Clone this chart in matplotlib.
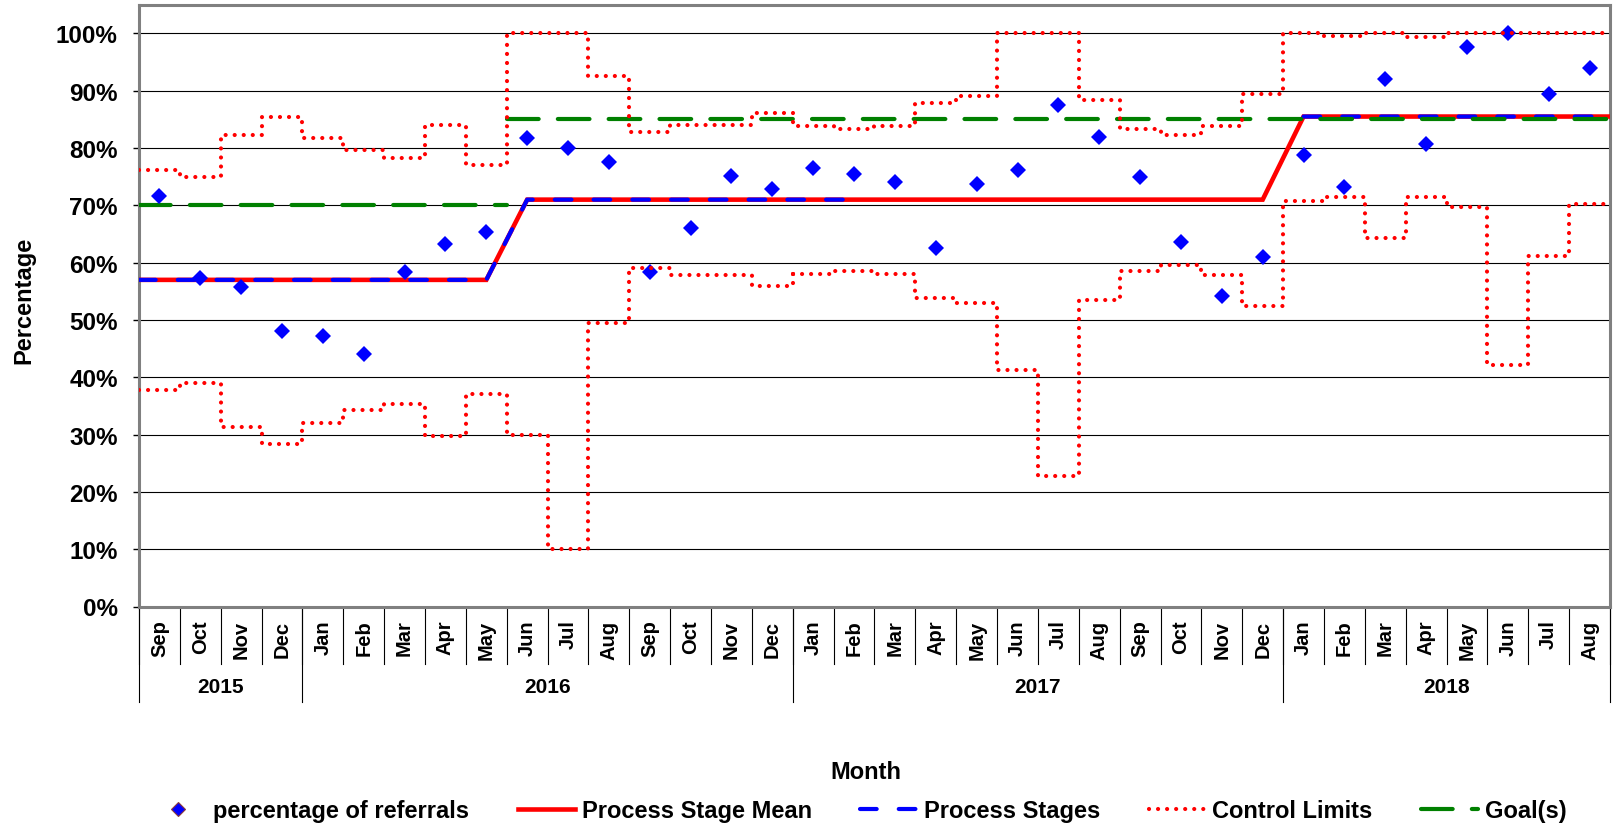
import numpy as np
import matplotlib
matplotlib.use("Agg")
import matplotlib.pyplot as plt
from matplotlib.lines import Line2D

plt.rcParams['font.family'] = ['Liberation Sans', 'DejaVu Sans']
plt.rcParams['font.weight'] = 'bold'

# ---------------- data ----------------
months = ["Sep", "Oct", "Nov", "Dec",
          "Jan", "Feb", "Mar", "Apr", "May", "Jun", "Jul", "Aug", "Sep", "Oct", "Nov", "Dec",
          "Jan", "Feb", "Mar", "Apr", "May", "Jun", "Jul", "Aug", "Sep", "Oct", "Nov", "Dec",
          "Jan", "Feb", "Mar", "Apr", "May", "Jun", "Jul", "Aug"]
years = ["2015", "2016", "2017", "2018"]
year_counts = [4, 12, 12, 8]

pct_referrals = [71.7, 57.4, 55.7, 48.1,
                 47.2, 44.1, 58.4, 63.2, 65.4, 81.8, 80.0, 77.5, 58.3, 66.0, 75.2, 72.8,
                 76.6, 75.4, 74.1, 62.5, 73.7, 76.2, 87.5, 82.0, 75.0, 63.6, 54.1, 61.0,
                 78.8, 73.2, 92.0, 80.7, 97.7, 100.0, 89.4, 93.9]

stage_mean = [57.0] * 9 + [71.0] * 19 + [85.5] * 8
# process stages (baseline periods); None = not part of a baseline
process_stages = [57.0] * 9 + [71.0] * 9 + [None] * 10 + [85.5] * 8

ucl = [76.1, 74.9, 82.3, 85.5,
       81.7, 79.7, 78.3, 84.0, 77.0, 100.0, 100.0, 92.5, 82.8, 84.0, 84.0, 86.1,
       83.9, 83.3, 83.8, 87.9, 89.1, 100.0, 100.0, 88.4, 83.4, 82.3, 83.9, 89.4,
       100.0, 99.6, 100.0, 99.4, 100.0, 100.0, 100.0, 100.0]
lcl = [37.7, 39.0, 31.4, 28.3,
       32.1, 34.3, 35.4, 29.8, 37.0, 29.9, 10.0, 49.4, 59.1, 57.9, 57.9, 55.9,
       58.0, 58.6, 58.1, 53.9, 52.9, 41.2, 22.8, 53.4, 58.5, 59.6, 57.9, 52.4,
       70.7, 71.4, 64.3, 71.4, 69.7, 42.2, 61.1, 70.3]
goal = [70.0] * 9 + [85.0] * 27

# ---------------- figure ----------------
W, H = 1613, 829
fig = plt.figure(figsize=(W / 100, H / 100), dpi=100)

ax_left_px, ax_right_px = 139, 1610
ax_top_px, ax_bot_px = 5.8, 607.5
ax = fig.add_axes([ax_left_px / W, 1 - ax_bot_px / H,
                   (ax_right_px - ax_left_px) / W, (ax_bot_px - ax_top_px) / H])
ax_h_px = ax_bot_px - ax_top_px

n = len(months)
x = np.arange(n)
x_ext = np.concatenate([[-0.5], x, [n - 0.5]])

def to_frac(vals):
    return np.array([np.nan if v is None else v / 100.0 for v in vals], dtype=float)

def extend(vals):
    a = to_frac(vals)
    return np.concatenate([[a[0]], a, [a[-1]]])

red = "#FF0000"
blue = "#0000FF"
green = "#008000"

cl_style = dict(color=red, linewidth=3.0, linestyle=(0, (0.01, 2.16)),
                dash_capstyle='round', solid_joinstyle='round')
stage_style = dict(color=blue, linewidth=3.0, linestyle=(0, (4.0, 5.3)),
                   dash_capstyle='round')
goal_style = dict(color=green, linewidth=3.0, linestyle=(0, (7.6, 4.6)),
                  dash_capstyle='round')

# control limits (dotted steps)
ax.plot(x_ext, extend(ucl), drawstyle='steps-mid', zorder=9, **cl_style)
ax.plot(x_ext, extend(lcl), drawstyle='steps-mid', zorder=9, **cl_style)

# goal: horizontal segments for each run of equal values
gv = to_frac(goal)
run_start = 0
for i in range(1, n + 1):
    if i == n or gv[i] != gv[run_start]:
        ax.plot([run_start - 0.5, i - 0.5], [gv[run_start], gv[run_start]],
                zorder=7, **goal_style)
        run_start = i

# process stage mean
ax.plot(x_ext, extend(stage_mean), color=red, linewidth=3.3, zorder=4,
        solid_joinstyle='miter')

# process stages
ax.plot(x_ext, extend(process_stages), zorder=5, **stage_style)

# data points
ax.plot(x, to_frac(pct_referrals), linestyle='none', marker='D', markersize=8.4,
        color=blue, markeredgewidth=0, zorder=8)

# axes styling
ax.set_xlim(-0.5, n - 0.5)
ax.set_ylim(0, 1.05)
yt = np.arange(0, 1.01, 0.1)
ax.set_yticks(yt)
ax.set_yticklabels([f"{int(round(v * 100))}%" for v in yt], fontsize=17.5, fontweight='bold')
ax.tick_params(axis='y', length=4.3, width=1, color='black', pad=11, direction='out')
ax.set_xticks([])
ax.grid(axis='y', color='black', linewidth=0.8)
ax.set_axisbelow(True)
for s in ax.spines.values():
    s.set_color('#808080')
    s.set_linewidth(2.2)

# category axis: month labels and separators
def yfrac(px_below):
    return -px_below / ax_h_px

trans = ax.get_xaxis_transform()
for i, m in enumerate(months):
    ax.text(i, yfrac(13), m, rotation=90, ha='center', va='top', fontsize=14.5,
            fontweight='bold', transform=trans, clip_on=False)
for e in np.arange(n + 1) - 0.5:
    ax.add_line(Line2D([e, e], [0, yfrac(57.5)], transform=trans, color='black',
                       linewidth=0.8, clip_on=False))
start = -0.5
for yr, cnt in zip(years, year_counts):
    end = start + cnt
    ax.add_line(Line2D([start, start], [0, yfrac(95.5)], transform=trans, color='black',
                       linewidth=0.8, clip_on=False))
    ax.text((start + end) / 2, yfrac(80), yr, ha='center', va='center', fontsize=15,
            fontweight='bold', transform=trans, clip_on=False)
    start = end
ax.add_line(Line2D([start, start], [0, yfrac(95.5)], transform=trans, color='black',
                   linewidth=0.8, clip_on=False))

# axis titles
fig.text(24 / W, 1 - 300 / H, "Percentage", rotation=90, ha='center', va='center',
         fontsize=17, fontweight='bold')
fig.text(866 / W, 1 - 773 / H, "Month", ha='center', va='center',
         fontsize=17, fontweight='bold')

# legend
handles = [
    Line2D([], [], linestyle='none', marker='D', markersize=7.6, color=blue,
           markeredgecolor='#8B3A3A', markeredgewidth=0.8),
    Line2D([], [], color=red, linewidth=3.3),
    Line2D([], [], **stage_style),
    Line2D([], [], **cl_style),
    Line2D([], [], **goal_style),
]
labels = ["percentage of referrals", "Process Stage Mean", "Process Stages",
          "Control Limits", "Goal(s)"]
fig.legend(handles, labels, loc='center', bbox_to_anchor=(858 / W, 1 - 812 / H),
           ncol=5, frameon=False, handlelength=2.4, handletextpad=0.3,
           columnspacing=2.05, prop={'weight': 'bold', 'size': 17})

fig.savefig("out.png", dpi=100)
